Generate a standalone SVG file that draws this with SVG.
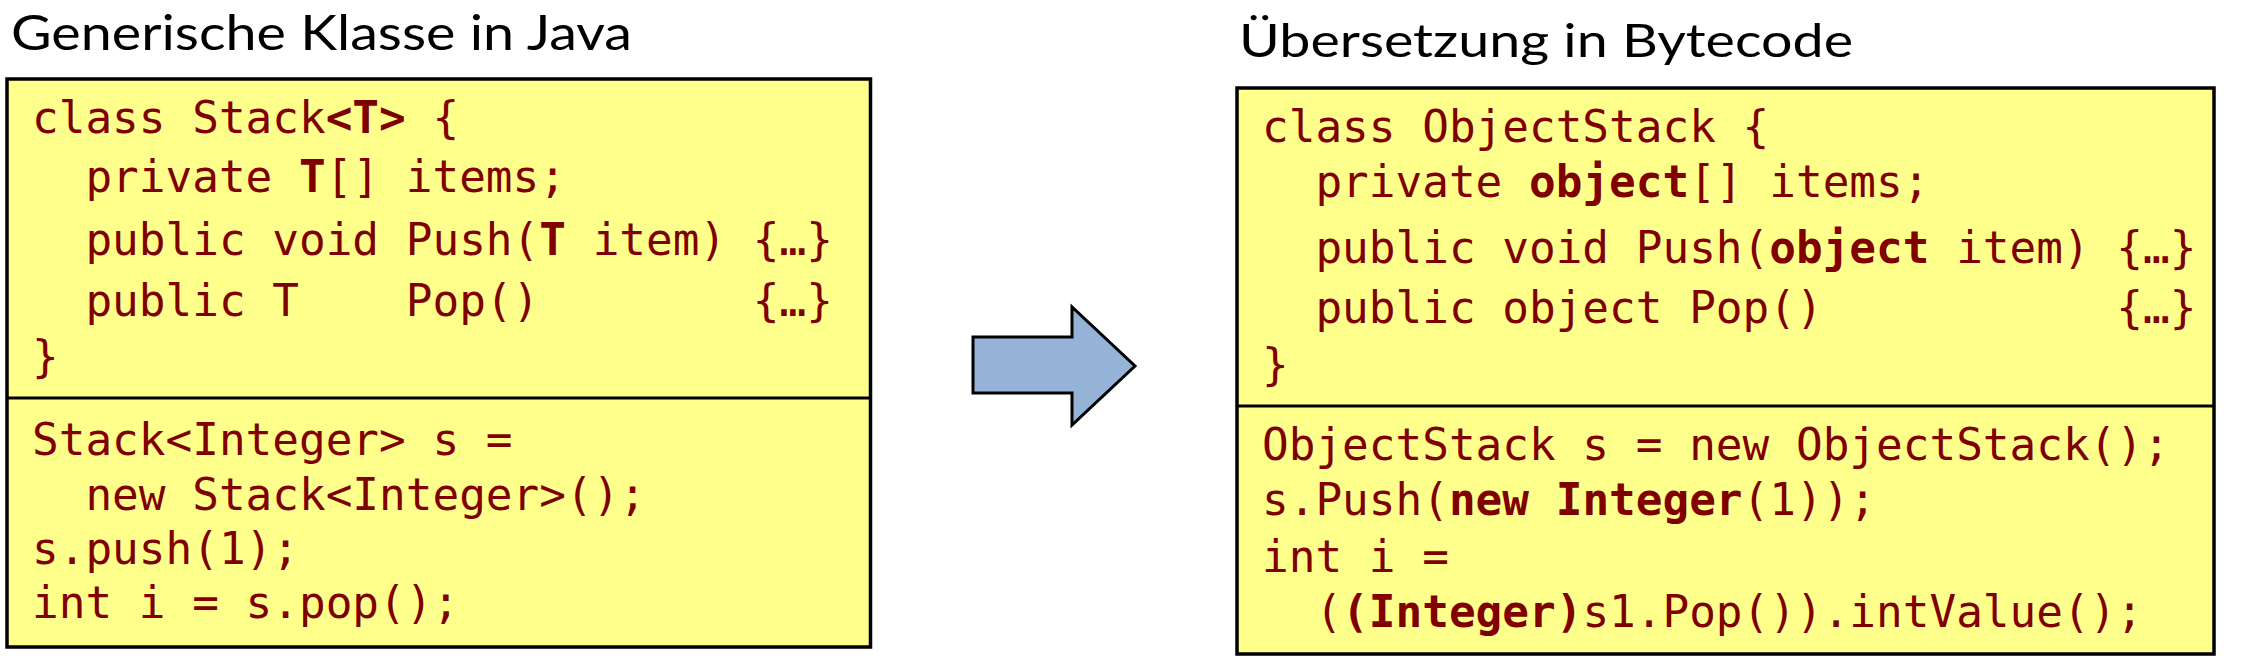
<svg xmlns="http://www.w3.org/2000/svg" width="2253" height="665" viewBox="0 0 2253 665">
<style>
.title{font-family:Lato,"Open Sans","Liberation Sans",sans-serif;fill:#000;}
.code{font-family:"DejaVu Sans Mono","Liberation Mono",monospace;font-size:44.35px;fill:#800000;white-space:pre;}
.b{font-weight:bold;}
.box{fill:#FFFF8C;stroke:#000;stroke-width:3.5;}
.div{stroke:#000;stroke-width:3;}
</style>
<rect width="2253" height="665" fill="#fff"/>
<g id="title-left">
<text class="title" x="11" y="50" font-size="49" textLength="621" lengthAdjust="spacingAndGlyphs">Generische Klasse in Java</text>
</g>
<g id="title-right">
<text class="title" x="1239" y="57" font-size="46" textLength="614" lengthAdjust="spacingAndGlyphs">Übersetzung in Bytecode</text>
</g>
<g id="java-box">
<rect class="box" x="7" y="79" width="863.5" height="568"/>
<line class="div" x1="7" y1="398" x2="870.5" y2="398"/>
<text class="code" xml:space="preserve" x="32" y="133">class Stack<tspan class="b">&lt;T&gt;</tspan> {</text>
<text class="code" xml:space="preserve" x="32" y="192">  private <tspan class="b">T</tspan>[] items;</text>
<text class="code" xml:space="preserve" x="32" y="255">  public void Push(<tspan class="b">T</tspan> item) {…}</text>
<text class="code" xml:space="preserve" x="32" y="316">  public T    Pop()        {…}</text>
<text class="code" xml:space="preserve" x="32" y="372">}</text>
<text class="code" xml:space="preserve" x="32" y="455">Stack&lt;Integer&gt; s =</text>
<text class="code" xml:space="preserve" x="32" y="510">  new Stack&lt;Integer&gt;();</text>
<text class="code" xml:space="preserve" x="32" y="564">s.push(1);</text>
<text class="code" xml:space="preserve" x="32" y="618">int i = s.pop();</text>
</g>
<g id="bytecode-box">
<rect class="box" x="1237" y="88" width="977" height="566"/>
<line class="div" x1="1237" y1="406" x2="2214" y2="406"/>
<text class="code" xml:space="preserve" x="1262" y="142">class ObjectStack {</text>
<text class="code" xml:space="preserve" x="1262" y="197">  private <tspan class="b">object</tspan>[] items;</text>
<text class="code" xml:space="preserve" x="1262" y="263">  public void Push(<tspan class="b">object</tspan> item) {…}</text>
<text class="code" xml:space="preserve" x="1262" y="323">  public object Pop()           {…}</text>
<text class="code" xml:space="preserve" x="1262" y="380">}</text>
<text class="code" xml:space="preserve" x="1262" y="460">ObjectStack s = new ObjectStack();</text>
<text class="code" xml:space="preserve" x="1262" y="515">s.Push(<tspan class="b">new Integer</tspan>(1));</text>
<text class="code" xml:space="preserve" x="1262" y="572">int i =</text>
<text class="code" xml:space="preserve" x="1262" y="627">  (<tspan class="b">(Integer)</tspan>s1.Pop()).intValue();</text>
</g>
<g id="connectors">
<polygon points="973,337 1072,337 1072,307 1135,366 1072,425 1072,393 973,393" fill="#95B3D7" stroke="#000" stroke-width="3" stroke-linejoin="miter"/>
</g>
</svg>
